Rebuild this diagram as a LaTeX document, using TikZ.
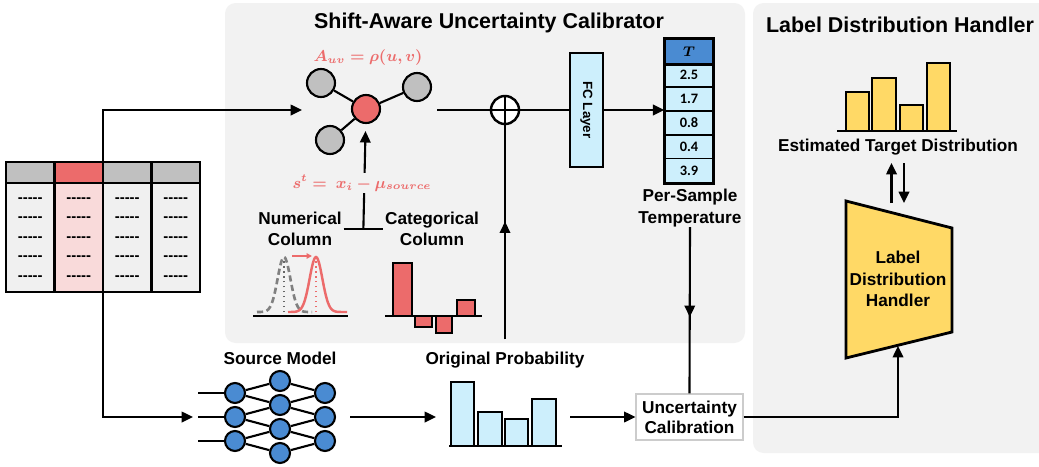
\documentclass[tikz,border=0pt]{standalone}
\usepackage{fontspec}
\setmainfont{Liberation Sans}
\newfontfamily\numfont{Carlito}
\usepackage{amsmath,amssymb,bm}
\usepackage{graphicx}
\usepackage{tikz}
\usetikzlibrary{arrows.meta,positioning,calc,decorations.markings}

\definecolor{panelgray}{HTML}{F2F2F2}
\definecolor{salmon}{HTML}{EC6B6B}
\definecolor{pinkbg}{HTML}{F9DADA}
\definecolor{nodegray}{HTML}{C0C0C0}
\definecolor{cellgray}{HTML}{F0F0F0}
\definecolor{paleblue}{HTML}{CDEFFC}
\definecolor{midblue}{HTML}{4A8BD2}
\definecolor{gold}{HTML}{FFD966}

\begin{document}
\begin{tikzpicture}[x=0.02cm, y=-0.02cm,
    lbl/.style={font=\fontsize{9.8}{12.2}\selectfont\bfseries, align=center, inner sep=0pt},
    ttl/.style={font=\fontsize{12.2}{14}\selectfont\bfseries, inner sep=0pt},
    mathlbl/.style={font=\fontsize{8.6}{10}\selectfont, text=salmon, inner sep=1pt},
    dashtxt/.style={font=\fontsize{8.5}{10}\selectfont\bfseries, inner sep=0pt},
    con/.style={line width=1.2pt},
    arr/.style={line width=1.2pt, -{Triangle[length=6.5pt,width=6pt]}},
    midarr/.style={line width=1.2pt, decoration={markings,
        mark=at position #1 with {\arrow{Triangle[length=6.5pt,width=6pt]}}},
        postaction={decorate}},
    panel/.style={fill=panelgray, rounded corners=6pt},
    bar/.style={draw, line width=1.2pt},
    gnode/.style={circle, draw, line width=1.2pt, minimum size=0.56cm, inner sep=0pt},
    nn/.style={circle, draw, line width=1.2pt, fill=midblue, minimum size=0.4cm, inner sep=0pt},
    cell/.style={draw, line width=0.8pt, fill=paleblue, minimum width=0.96cm,
        minimum height=0.476cm, inner sep=0pt, font=\numfont\fontsize{8.2}{9}\selectfont\bfseries}]

\clip (0,0) rectangle (1039,467);

% panels
\fill[panel] (225,3) rectangle (745,343);
\fill[panel] (753,3) rectangle (1070,453);
\node[ttl] (sauc) at (489,23) {Shift-Aware Uncertainty Calibrator};
\node[ttl] (ldhttl) at (900,25) {Label Distribution Handler};

% input table
\coordinate (tabN) at (103,162);
\coordinate (tabS) at (103,292);
\coordinate (gin) at (302,110);
\coordinate (nin) at (193,417);
\draw[arr] (tabN) |- (gin);
\draw[arr] (tabS) |- (nin);
\foreach \i/\hd/\bd in {0/nodegray/cellgray, 1/salmon/pinkbg, 2/nodegray/cellgray, 3/nodegray/cellgray} {
  \fill[\bd] (6+48.5*\i,183) rectangle ++(48.5,109);
  \fill[\hd] (6+48.5*\i,162) rectangle ++(48.5,21);
  \foreach \r in {0,...,4}
    \node[dashtxt] at (30.25+48.5*\i,200+19.5*\r) {-{}-{}-{}-{}-};
}
\draw[line width=1.6pt] (6,162) rectangle (200,292);
\draw[line width=1.6pt] (6,183) -- (200,183);
\foreach \x in {54.5,103,151.5}
  \draw[line width=1.6pt] (\x,162) -- (\x,292);

% correlation graph
\node[gnode, fill=salmon] (g0) at (366,109) {};
\node[gnode, fill=nodegray] (g1) at (321,83) {};
\node[gnode, fill=nodegray] (g2) at (417,87) {};
\node[gnode, fill=nodegray] (g3) at (330,140) {};
\foreach \g in {g1,g2,g3}
  \draw[con] (g0) -- (\g);
\node[mathlbl] (adj) at (368,58) {$\bm{A_{uv} = \rho(u,v)}$};

\node[lbl] (num) at (300,229) {Numerical\\Column};
\node[lbl] (cat) at (432,229) {Categorical\\Column};
\draw[con] ([xshift=1pt]num.east) -- ([xshift=-1pt]cat.west);
\coordinate (tj) at ($(num.east)!0.5!(cat.west)$);
\draw[arr, shorten >=4pt] (tj) -- (g0);
\node[mathlbl, fill=panelgray] (shift) at (362,183) {$\bm{s^t =\; x_i - \mu_{source}}$};

% numerical shift
\draw[con] (253,316) -- (348,316);
\draw[gray!80!black, dotted, line width=0.8pt] (284,312) -- (284,259);
\draw[salmon, dotted, line width=0.8pt] (316,312) -- (316,259);
\draw[gray, line width=1.5pt, dash pattern=on 3.5pt off 2pt]
  plot[domain=257:312, samples=60, smooth] (\x,{312-55*exp(-((\x-284)/9)^2)});
\draw[salmon, line width=1.4pt]
  plot[domain=288:347, samples=60, smooth] (\x,{312-55*exp(-((\x-316)/9)^2)});
\draw[salmon, line width=0.9pt, -{Triangle[length=3pt,width=3pt]}] (292,256) -- (312,256);

% categorical shift
\draw[bar, fill=salmon] (393,316) rectangle (412,263);
\draw[bar, fill=salmon] (415,316) rectangle (432,327);
\draw[bar, fill=salmon] (436,316) rectangle (452,333);
\draw[bar, fill=salmon] (457,316) rectangle (475,300);
\draw[con] (385,316) -- (482,316);

% fusion and temperature
\coordinate (gout) at (437,110);
\node[circle, draw, fill=white, line width=1.4pt, minimum size=0.56cm, inner sep=0pt] (oplus) at (505,110) {};
\draw[line width=1.4pt] (oplus.north) -- (oplus.south) (oplus.west) -- (oplus.east);
\node[draw, fill=paleblue, line width=1.4pt, minimum width=0.66cm, minimum height=2.28cm, inner sep=0pt,
  font=\fontsize{7.6}{8}\selectfont\bfseries] (fc) at (586.5,110) {\rotatebox{-90}{FC Layer}};
\draw[con] (gout) -- (oplus);
\draw[con] (oplus) -- (fc);

\node[cell, fill=midblue, font=\fontsize{8}{9}\selectfont] (t0) at (689,51.5) {$\bm{T}$};
\foreach \v [count=\k] in {2.5,1.7,0.8,0.4,3.9}
  \node[cell] (t\k) at (689,51.5+23.8*\k) {\v};
\draw[line width=1.6pt] (t0.north west) rectangle (t5.south east);
\draw[line width=1.6pt] (t0.south west) -- (t0.south east);
\draw[arr] (fc.east) -- (fc.east -| t2.west);
\node[lbl] (pst) at (690,208) {Per-Sample\\Temperature};

% source model
\node[lbl] (src) at (280,358) {Source Model};
\foreach \y [count=\i] in {393,417,441}
  \node[nn] (a\i) at (235,\y) {};
\foreach \y [count=\i] in {381,405,429,453}
  \node[nn] (b\i) at (280,\y) {};
\foreach \y [count=\i] in {393,417,441}
  \node[nn] (c\i) at (325,\y) {};
\foreach \i in {1,2,3} {
  \pgfmathtruncatemacro\j{\i+1}
  \draw[con] (a\i) -- (b\i) (a\i) -- (b\j) (b\i) -- (c\i) (b\j) -- (c\i);
  \draw[con] (a\i.west) -- ++(-26,0);
}

% original probability
\node[lbl] (op) at (505,360) {Original Probability};
\coordinate (nout) at (350,417);
\coordinate (opin) at (436,417);
\coordinate (opout) at (570,417);
\draw[arr] (nout) -- (opin);
\draw[bar, fill=paleblue] (451,446) rectangle (474,382);
\draw[bar, fill=paleblue] (478,446) rectangle (502,412);
\draw[bar, fill=paleblue] (505,446) rectangle (528,419);
\draw[bar, fill=paleblue] (532,446) rectangle (556,399);
\draw[con] (449,446) -- (562,446);
\draw[midarr=0.55] ([yshift=7pt]op.north) -- (oplus.south);

% calibration
\node[draw=black!20, fill=white, line width=0.6pt, minimum width=2.14cm, minimum height=0.92cm,
  inner sep=0pt, align=center, font=\fontsize{9.8}{11.4}\selectfont\bfseries] (uc) at (689.5,417) {Uncertainty\\Calibration};
\draw[arr] (opout) -- (uc.west);
\draw[midarr=0.54] (pst.south) -- (uc.north);

% label distribution handler
\draw[line width=1.6pt, fill=gold] (846,201) -- (952,228) -- (952,332) -- (846,358) -- cycle;
\node[lbl] (ldh) at (898,279) {Label\\Distribution\\Handler};
\coordinate (ldhin) at (898,346);
\draw[arr] (uc.east) -| (ldhin);

\node[lbl] (etd) at (898,147) {Estimated Target Distribution};
\draw[bar, fill=gold] (846,131) rectangle (869,92);
\draw[bar, fill=gold] (872,131) rectangle (896,78);
\draw[bar, fill=gold] (900,131) rectangle (923,105);
\draw[bar, fill=gold] (927,131) rectangle (950,63);
\draw[con] (837,131) -- (957,131);
\coordinate (ldhtop) at (898,203);
\draw[arr] ([xshift=-0.13cm]ldhtop) -- ++(0,-40);
\draw[arr] ([xshift=0.12cm,yshift=0.8cm]ldhtop) -- ++(0,40);

\end{tikzpicture}
\end{document}
